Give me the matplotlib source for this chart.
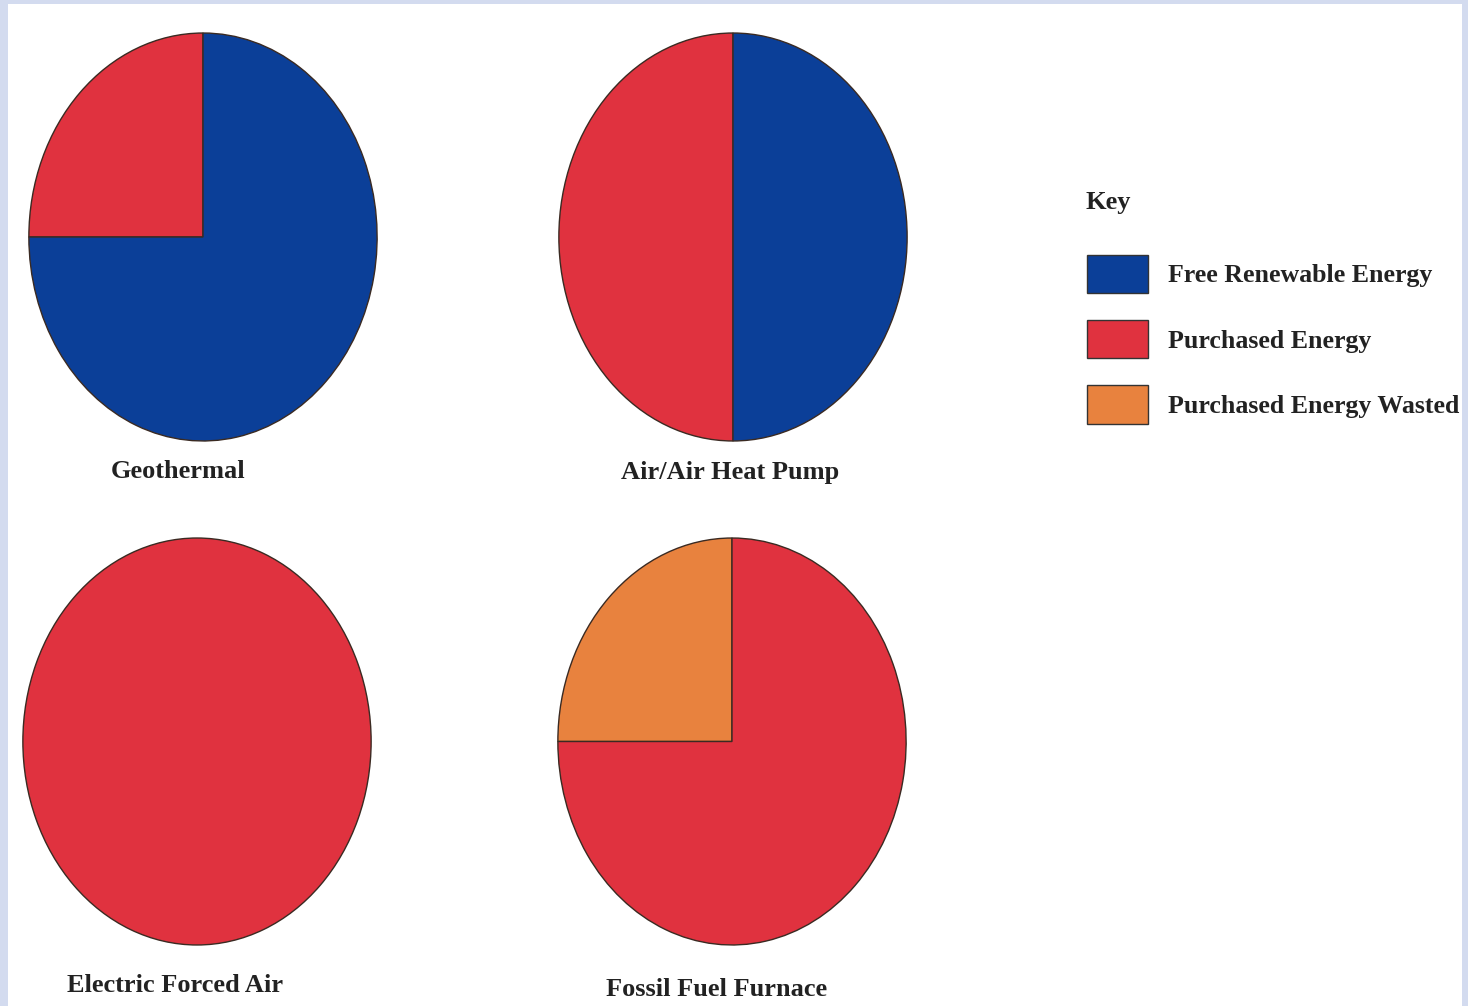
import matplotlib
matplotlib.use("Agg")
import matplotlib.pyplot as plt
from matplotlib.patches import Patch

W, H = 1468, 1006

categories = ["Free Renewable Energy", "Purchased Energy", "Purchased Energy Wasted"]
colors = {"Free Renewable Energy": "#0b3f98",
          "Purchased Energy": "#e0323f",
          "Purchased Energy Wasted": "#e8823e"}

systems = ["Geothermal", "Air/Air Heat Pump", "Electric Forced Air", "Fossil Fuel Furnace"]
# shares (%) in drawing order, counterclockwise from 12 o'clock
geothermal_labels = ["Purchased Energy", "Free Renewable Energy"]
geothermal_values = [25, 75]
airair_labels = ["Purchased Energy", "Free Renewable Energy"]
airair_values = [50, 50]
electric_labels = ["Purchased Energy"]
electric_values = [100]
fossil_labels = ["Purchased Energy Wasted", "Purchased Energy"]
fossil_values = [25, 75]

pie_data = [(geothermal_labels, geothermal_values),
            (airair_labels, airair_values),
            (electric_labels, electric_values),
            (fossil_labels, fossil_values)]

# pixel boxes of each ellipse (x0, y0_top, x1, y1_bottom) and title positions
boxes = [(28, 32, 378, 442), (558, 32, 908, 442), (22, 537, 372, 946), (557, 537, 907, 946)]
title_pos = [(178, 472), (730, 472), (175, 986), (717, 990)]

plt.rcParams['font.family'] = ['Liberation Serif', 'DejaVu Serif']

fig = plt.figure(figsize=(W / 100, H / 100), dpi=100)
fig.patch.set_facecolor("#d3dbef")

bg = fig.add_axes([8 / W, 0, (1462 - 8) / W, (H - 4) / H])
bg.set_facecolor("white")
bg.set_xticks([]); bg.set_yticks([])
for s in bg.spines.values():
    s.set_visible(False)

FS = 19
LFS = 18.6
TXT = "#222222"

for (labs, vals), (x0, y0, x1, y1), name, (tx, ty) in zip(pie_data, boxes, systems, title_pos):
    ax = fig.add_axes([x0 / W, 1 - y1 / H, (x1 - x0) / W, (y1 - y0) / H])
    ax.pie(vals, colors=[colors[l] for l in labs], startangle=90, counterclock=True,
           radius=1.0, wedgeprops=dict(edgecolor="#3a2a22", linewidth=1.0))
    ax.set_aspect("auto")
    ax.set_xlim(-1.005, 1.005)
    ax.set_ylim(-1.005, 1.005)
    ax.axis("off")
    fig.text(tx / W, 1 - ty / H, name, ha="center", va="center", fontsize=FS,
             fontweight="bold", color=TXT)

fig.text(1085 / W, 1 - 202 / H, "Key", ha="left", va="center", fontsize=FS,
         fontweight="bold", color=TXT)

fs_px = LFS * 100 / 72
handles = [Patch(facecolor=colors[c], edgecolor="#333333", linewidth=1.0) for c in categories]
leg = fig.legend(handles, categories, loc="upper left", bbox_to_anchor=(1087 / W, 1 - 255 / H),
                 frameon=False, fontsize=LFS, borderpad=0, borderaxespad=0,
                 handlelength=61 / fs_px, handleheight=1.9,
                 handletextpad=20 / fs_px, labelspacing=27 / fs_px)
for t in leg.get_texts():
    t.set_fontweight("bold")
    t.set_color(TXT)

fig.savefig("out.png", dpi=100, facecolor=fig.get_facecolor())
